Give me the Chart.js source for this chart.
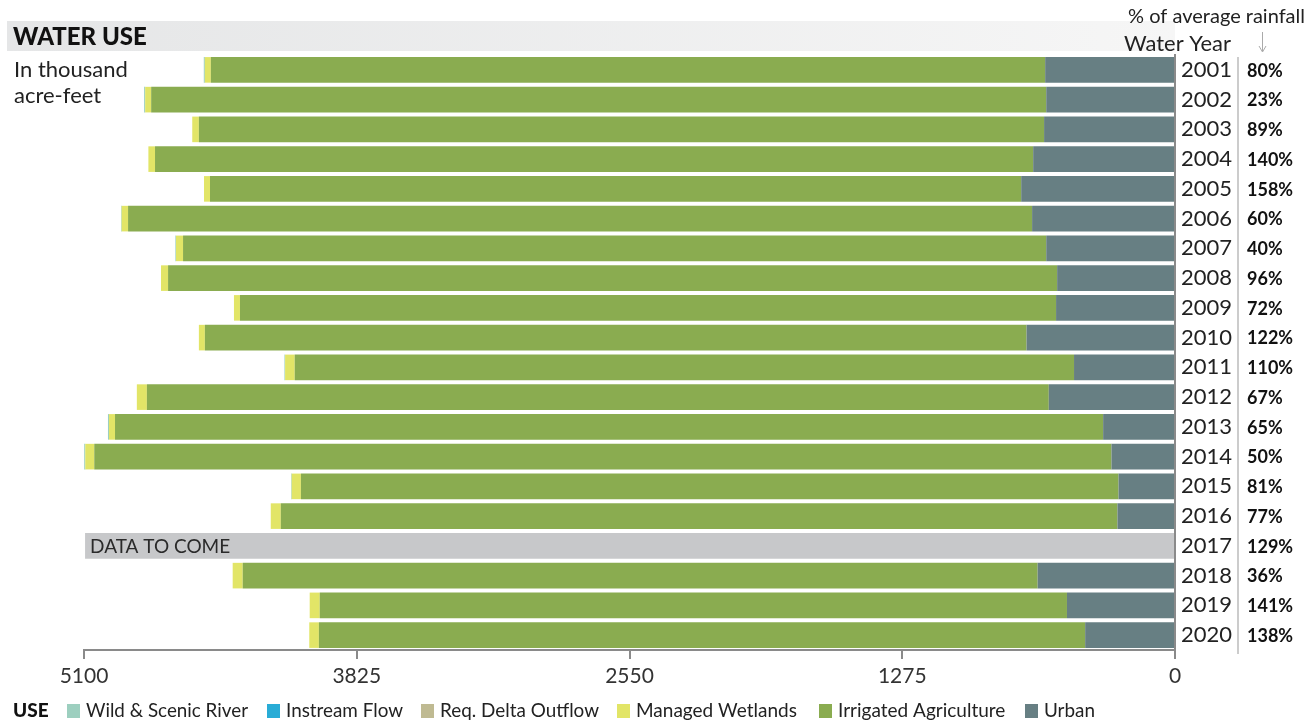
<!DOCTYPE html>
<html>
<head>
<meta charset="utf-8">
<title>Water Use</title>
<script src="https://cdn.jsdelivr.net/npm/chart.js@4.4.1/dist/chart.umd.min.js"></script>
<style>
  body { margin: 0; background: #fff; }
  #wrap { position: relative; width: 1309px; height: 721px; }
</style>
</head>
<body>
<div id="wrap"><canvas id="water-chart" width="1309" height="721"></canvas></div>
<script>
// water years (category axis)
var years = ['2001','2002','2003','2004','2005','2006','2007','2008','2009','2010',
             '2011','2012','2013','2014','2015','2016','2017','2018','2019','2020'];

// thousand acre-feet (2017 has no data yet)
var urban      = [607, 602, 612, 663, 719, 668, 602, 551, 556, 694, 472, 590, 336, 297, 264, 269, null, 642, 505, 420];
var irrigAg    = [3900, 4184, 3951, 4105, 3792, 4226, 4035, 4156, 3815, 3841, 3643, 4216, 4619, 4755, 3822, 3911, null, 3716, 3493, 3582];
var wetlands   = [28, 28, 31, 31, 28, 30, 33, 33, 28, 28, 45, 47, 28, 42, 43, 47, null, 47, 47, 45];
var deltaOut   = [0, 0, 0, 0, 0, 0, 0, 0, 0, 0, 0, 0, 0, 0, 0, 0, null, 0, 0, 0];
var instream   = [0, 0, 0, 0, 0, 0, 0, 0, 0, 0, 0, 0, 0, 0, 0, 0, null, 0, 0, 0];
var wildRiver  = [5, 5, 0, 0, 0, 3, 3, 0, 0, 0, 3, 0, 5, 5, 3, 0, null, 0, 0, 0];
var dataToCome = [null, null, null, null, null, null, null, null, null, null,
                  null, null, null, null, null, null, 5095, null, null, null];

// % of average rainfall per water year
var rainPct = [80, 23, 89, 140, 158, 60, 40, 96, 72, 122, 110, 67, 65, 50, 81, 77, 129, 36, 141, 138];

var xTicks = [0, 1275, 2550, 3825, 5100];

var FONT = 'Lato, "Open Sans", sans-serif';

var colors = {
  wild: '#9dcfbf',
  instream: '#29acd6',
  delta: '#bfba92',
  wetlands: '#e2e567',
  ag: '#8aac50',
  urban: '#677f83',
  tbd: '#c7c8ca'
};

// legend, left to right
var legendItems = [
  { text: 'Wild & Scenic River', color: colors.wild, x: 67, w: 162 },
  { text: 'Instream Flow', color: colors.instream, x: 267, w: 117 },
  { text: 'Req. Delta Outflow', color: colors.delta, x: 421, w: 159 },
  { text: 'Managed Wetlands', color: colors.wetlands, x: 617, w: 165 },
  { text: 'Irrigated Agriculture', color: colors.ag, x: 819, w: 169 },
  { text: 'Urban', color: colors.urban, x: 1025, w: 51 }
];

var decorPlugin = {
  id: 'decor',
  beforeDraw: function (chart) {
    var ctx = chart.ctx;
    var area = chart.chartArea;
    ctx.save();
    // grey title band
    var grad = ctx.createLinearGradient(8, 0, area.right, 0);
    grad.addColorStop(0, '#e5e6e7');
    grad.addColorStop(1, '#f6f6f6');
    ctx.fillStyle = grad;
    ctx.fillRect(7, 21, area.right - 7, 30);
    ctx.restore();
  },
  afterDraw: function (chart) {
    var ctx = chart.ctx;
    var area = chart.chartArea;
    var yScale = chart.scales.y;
    ctx.save();

    // title + unit note
    ctx.fillStyle = '#111';
    ctx.textBaseline = 'alphabetic';
    ctx.font = '900 24px ' + FONT;
    ctx.fillText('WATER USE', 13, 45, 138);
    ctx.fillStyle = '#222';
    ctx.font = '22px ' + FONT;
    ctx.fillText('In thousand', 14, 77, 115);
    ctx.fillText('acre-feet', 14, 103, 88);

    // right side headers
    ctx.font = '20px ' + FONT;
    ctx.fillStyle = '#222';
    ctx.textAlign = 'right';
    ctx.fillText('% of average rainfall', 1305, 23, 179);
    ctx.font = '22px ' + FONT;
    ctx.fillText('Water Year', 1231, 51, 107);

    // little arrow
    ctx.strokeStyle = '#aaa';
    ctx.lineWidth = 1;
    ctx.beginPath();
    ctx.moveTo(1262.5, 32);
    ctx.lineTo(1262.5, 51);
    ctx.stroke();
    ctx.beginPath();
    ctx.moveTo(1259, 46);
    ctx.lineTo(1262.5, 52);
    ctx.lineTo(1266, 46);
    ctx.stroke();

    // separator between years and rainfall
    ctx.strokeStyle = '#bbb';
    ctx.lineWidth = 1.5;
    ctx.beginPath();
    ctx.moveTo(1238, area.top + 2);
    ctx.lineTo(1238, area.bottom + 4);
    ctx.stroke();

    // rainfall percentages
    ctx.textAlign = 'left';
    ctx.textBaseline = 'middle';
    ctx.fillStyle = '#111';
    ctx.font = 'bold 18px ' + FONT;
    for (var i = 0; i < rainPct.length; i++) {
      ctx.fillText(rainPct[i] + '%', 1247, yScale.getPixelForValue(i) + 1, 52);
    }

    // label on the 2017 placeholder bar
    var meta = chart.getDatasetMeta(6);
    var bar = meta.data[16];
    if (bar) {
      ctx.fillStyle = '#2a2a2a';
      ctx.font = '19px ' + FONT;
      ctx.fillText('DATA TO COME', bar.x + 5, bar.y + 1, 145);
    }

    // legend
    var ly = 711;
    ctx.fillStyle = '#111';
    ctx.font = '900 19px ' + FONT;
    ctx.fillText('USE', 13, ly, 37);
    ctx.font = '19px ' + FONT;
    legendItems.forEach(function (item) {
      ctx.fillStyle = item.color;
      ctx.fillRect(item.x, ly - 7, 13, 14);
      ctx.fillStyle = '#222';
      ctx.fillText(item.text, item.x + 19, ly, item.w);
    });

    ctx.restore();
  }
};

function makeSet(label, data, color) {
  return {
    label: label,
    data: data,
    backgroundColor: color,
    borderWidth: 0,
    barPercentage: 0.86,
    categoryPercentage: 1.0
  };
}

var ctx = document.getElementById('water-chart').getContext('2d');
var chart = new Chart(ctx, {
  type: 'bar',
  data: {
    labels: years,
    datasets: [
      makeSet('Urban', urban, colors.urban),
      makeSet('Irrigated Agriculture', irrigAg, colors.ag),
      makeSet('Managed Wetlands', wetlands, colors.wetlands),
      makeSet('Req. Delta Outflow', deltaOut, colors.delta),
      makeSet('Instream Flow', instream, colors.instream),
      makeSet('Wild & Scenic River', wildRiver, colors.wild),
      makeSet('Data to come', dataToCome, colors.tbd)
    ]
  },
  options: {
    indexAxis: 'y',
    responsive: false,
    animation: false,
    layout: { padding: { left: 84, top: 55, right: 0, bottom: 0 } },
    plugins: {
      legend: { display: false },
      tooltip: { enabled: false }
    },
    scales: {
      x: {
        stacked: true,
        reverse: true,
        min: 0,
        max: 5100,
        afterFit: function (scale) { scale.height = 71; },
        afterBuildTicks: function (scale) {
          scale.ticks = xTicks.map(function (v) { return { value: v }; });
        },
        grid: {
          display: true,
          drawOnChartArea: false,
          drawTicks: true,
          tickLength: 9,
          color: '#8a8a8a',
          lineWidth: 2
        },
        border: { display: true, color: '#8a8a8a', width: 2 },
        ticks: {
          padding: 5,
          color: '#333',
          font: { family: FONT, size: 21 },
          maxRotation: 0,
          callback: function (v) { return String(v); }
        }
      },
      y: {
        stacked: true,
        position: 'right',
        afterFit: function (scale) { scale.width = 134; },
        grid: { display: false, drawTicks: false },
        border: { display: true, color: '#8a8a8a', width: 2 },
        ticks: {
          padding: 6,
          color: '#222',
          font: { family: FONT, size: 22 }
        }
      }
    }
  },
  plugins: [decorPlugin]
});
</script>
</body>
</html>
